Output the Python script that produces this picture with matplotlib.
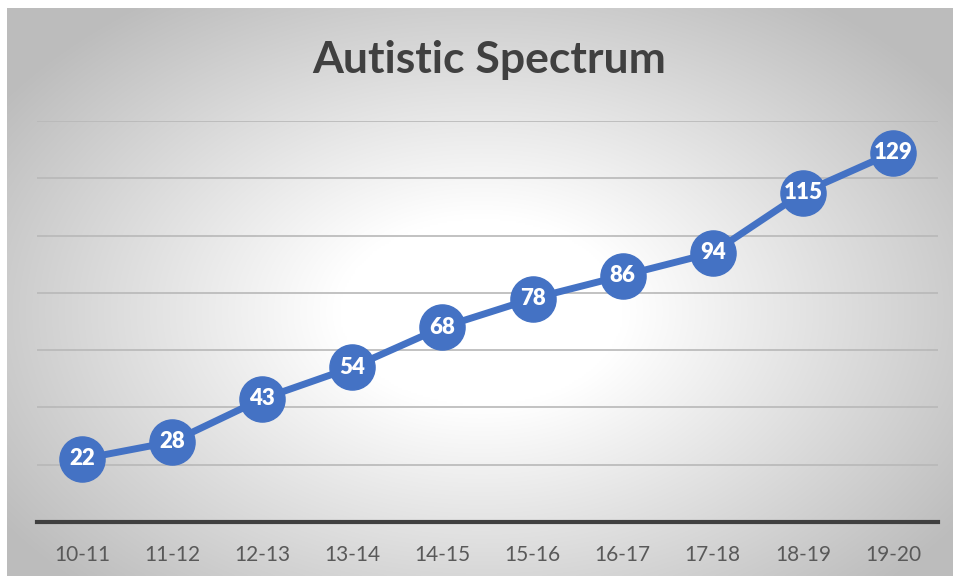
import numpy as np
import matplotlib
matplotlib.use("Agg")
import matplotlib.pyplot as plt

years = ["10-11", "11-12", "12-13", "13-14", "14-15", "15-16", "16-17", "17-18", "18-19", "19-20"]
counts = [22, 28, 43, 54, 68, 78, 86, 94, 115, 129]
title = "Autistic Spectrum"

plt.rcParams['font.family'] = ['Lato', 'DejaVu Sans']

W, H = 954, 576
fig = plt.figure(figsize=(W / 100, H / 100), dpi=100)

# Radial gradient panel behind the chart
bg = fig.add_axes([7 / W, 0, 1 - 7 / W, 1 - 8 / H])
bg.set_axis_off()
yy, xx = np.mgrid[0:300, 0:500]
cx, cy = 250, 160
r = np.sqrt(((xx - cx) / 250) ** 2 + ((yy - cy) / 165) ** 2)
shade = np.clip(1.0 - 0.27 * np.clip(r - 0.3, 0, None) / 0.95, 0.74, 1.0)
img = np.dstack([shade, shade, shade])
bg.imshow(img, aspect='auto', extent=[0, 1, 0, 1], origin='upper', interpolation='bilinear')
bg.set_xlim(0, 1)
bg.set_ylim(0, 1)

# Plot area
left, right = 37 / W, 938 / W
bottom, top = 1 - 522 / H, 1 - 121 / H
ax = fig.add_axes([left, bottom, right - left, top - bottom])
ax.patch.set_alpha(0)
x = np.arange(len(years))
ax.set_xlim(-0.5, len(years) - 0.5)
ax.set_ylim(0, 140)
ax.set_yticks(np.arange(20, 141, 20))
ax.yaxis.grid(True, color='#b8b8b8', linewidth=1.2)
ax.set_axisbelow(True)
ax.tick_params(axis='y', left=False, labelleft=False)
ax.tick_params(axis='x', bottom=False, labelsize=15, labelcolor='#595959', pad=13)
ax.set_xticks(x)
ax.set_xticklabels(years)
for s in ['top', 'right', 'left']:
    ax.spines[s].set_visible(False)
ax.spines['bottom'].set_color('#404040')
ax.spines['bottom'].set_linewidth(3)

ax.plot(x, counts, color='#4472c4', linewidth=5, marker='o', markersize=32.5,
        markerfacecolor='#4472c4', markeredgecolor='#4472c4', zorder=3, clip_on=False)
for xi, v in zip(x, counts):
    ax.text(xi, v, str(v), ha='center', va='center', color='white',
            fontsize=16, fontweight='heavy', zorder=4)

fig.text(0.513, 1 - 60 / H, title, ha='center', va='center', fontsize=32,
         fontweight='bold', color='#404040')

fig.savefig("out.png", dpi=100)
